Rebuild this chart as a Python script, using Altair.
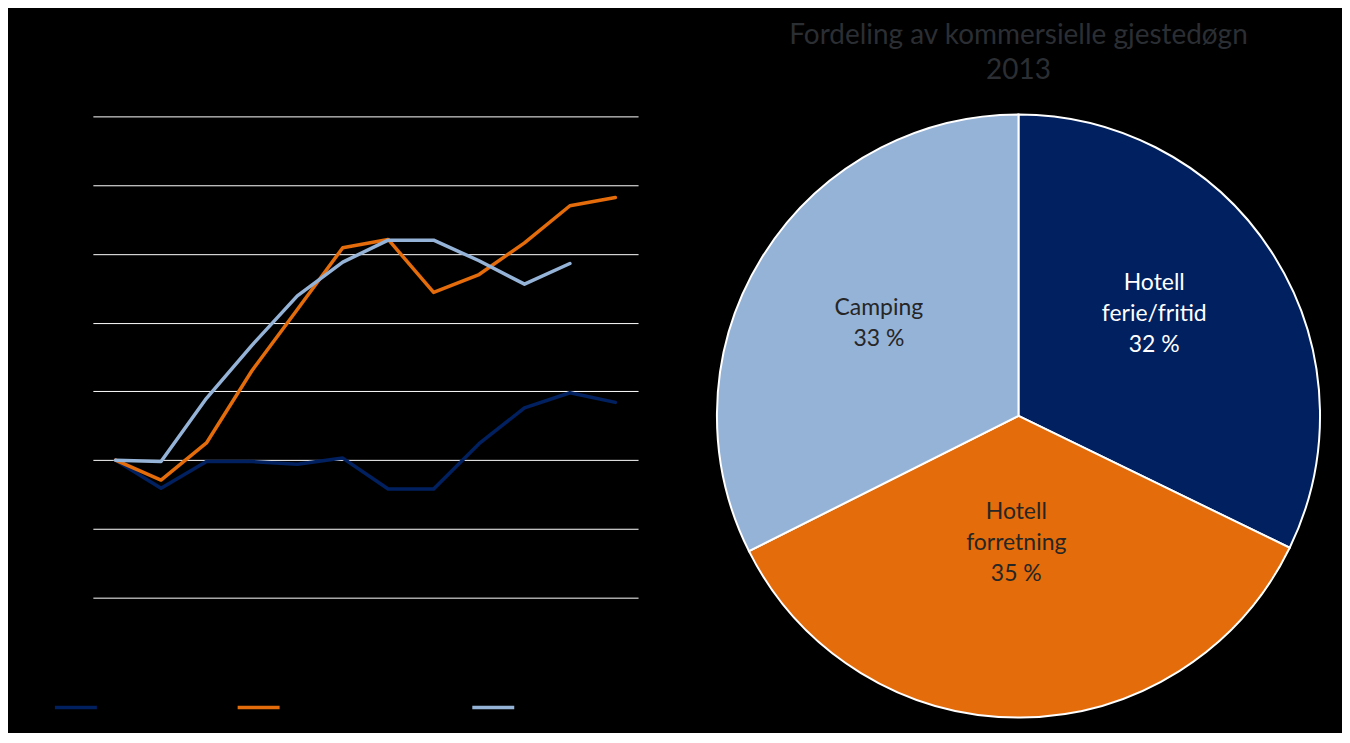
import altair as alt
import pandas as pd

# ---- line chart data (index, start = 100) ----
aar = [str(y) for y in range(2002, 2014)]
serier = ["Hotell ferie/fritid", "Hotell, forretning/konferanser", "Camping"]
ferie = [100, 95.9, 99.8, 99.8, 99.4, 100.3, 95.8, 95.8, 102.4, 107.6, 109.8, 108.4]
forretning = [100, 97.1, 102.5, 113.0, 121.9, 130.9, 132.1, 124.4, 127.0, 131.6, 137.0, 138.2]
camping = [100, 99.8, 109.0, 116.7, 123.9, 128.8, 132.0, 132.0, 129.0, 125.6, 128.6]
y_ticks = [80, 90, 100, 110, 120, 130, 140, 150]

# ---- pie data ----
kategorier = ["Hotell ferie/fritid", "Hotell forretning", "Camping"]
andeler = [32.2, 35.4, 32.4]
etiketter = ["Hotell\nferie/fritid\n32 %", "Hotell\nforretning\n35 %", "Camping\n33 %"]

farger = ["#002060", "#E46C0A", "#95B3D7"]

rows = []
for navn, verdier in zip(serier, [ferie, forretning, camping]):
    for a, v in zip(aar, verdier):
        rows.append({"aar": a, "serie": navn, "indeks": v})
line_df = pd.DataFrame(rows)

pie_df = pd.DataFrame({"kat": kategorier, "andel": andeler, "etikett": etiketter})

FONT = "Lato"

line = alt.Chart(line_df).mark_line(strokeWidth=3.5, strokeCap="round", strokeJoin="round").encode(
    x=alt.X("aar:O", sort=aar, scale=alt.Scale(type="point", padding=0.5),
            axis=alt.Axis(title=None, labelColor="black", ticks=False, domain=False, grid=False,
                          labelFont=FONT, labelFontSize=13, labelAngle=0)),
    y=alt.Y("indeks:Q", scale=alt.Scale(domain=[80, 150], nice=False, zero=False),
            axis=alt.Axis(title=None, values=y_ticks, grid=True, gridColor="white", gridWidth=1,
                          domain=False, ticks=False, labelColor="black", labelFont=FONT,
                          labelFontSize=13)),
    color=alt.Color("serie:N", sort=serier, scale=alt.Scale(domain=serier, range=farger),
                    legend=alt.Legend(title=None, orient="none", legendX=-40, legendY=569,
                                      direction="horizontal", symbolType="stroke",
                                      symbolSize=1764, symbolStrokeWidth=3.5,
                                      labelColor="black", labelFont=FONT, labelFontSize=14,
                                      columnPadding=23, labelOffset=4)),
).properties(width=546, height=482)

base = alt.Chart(pie_df).transform_calculate(
    o="indexof(['Hotell ferie/fritid','Hotell forretning','Camping'], datum.kat)"
).encode(
    theta=alt.Theta("andel:Q", stack=True),
    order=alt.Order("o:Q"),
)

arc = base.mark_arc(radius=302, stroke="white", strokeWidth=2).encode(
    color=alt.Color("kat:N", scale=alt.Scale(domain=kategorier, range=farger), legend=None)
)

tekst = base.mark_text(
    lineBreak="\n", font=FONT, fontSize=23, lineHeight=31, align="center", baseline="middle",
    radius=alt.expr("datum.kat == 'Hotell forretning' ? 125 : (datum.kat == 'Camping' ? 169 : 171)"),
    dx=alt.expr("datum.kat == 'Hotell forretning' ? -3 : (datum.kat == 'Camping' ? 4 : -9)"),
    dy=alt.expr("datum.kat == 'Hotell forretning' ? -29 : (datum.kat == 'Camping' ? -19 : -42)"),
).encode(
    text="etikett:N",
    color=alt.condition("datum.kat == 'Hotell ferie/fritid'", alt.value("white"), alt.value("#262626")),
)

pie = alt.layer(arc, tekst).properties(
    width=606, height=600,
    title=alt.Title(["Fordeling av kommersielle gjestedøgn", "2013"], font=FONT, fontSize=28,
                    fontWeight="normal", color="#2b2e33", lineHeight=35, offset=25, anchor="middle"),
)

chart = alt.hconcat(line, pie, spacing=78, bounds="flush").resolve_scale(color="independent").configure_view(
    stroke=None
).properties(
    background="black",
    padding={"left": 45, "top": 14, "right": 18, "bottom": 11},
)

chart.save("out.html", embed_options={"renderer": "svg", "actions": False})
